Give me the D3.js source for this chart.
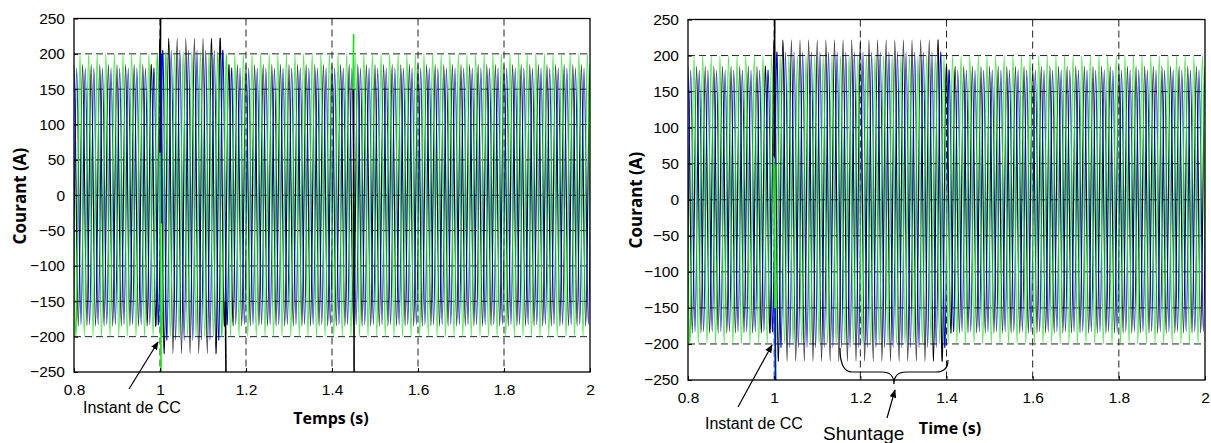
<!DOCTYPE html>
<html><head><meta charset="utf-8">
<script src="https://cdn.jsdelivr.net/npm/d3@7"></script>
<style>body{margin:0;background:#fff;overflow:hidden}</style>
</head><body>
<svg id="c" width="1211" height="443"></svg>
<script>
// ---------- DATA ----------
const timeDomain = [0.8, 2.0];
const currentDomain = [-250, 250];
const timeTicks = [0.8, 1.0, 1.2, 1.4, 1.6, 1.8, 2.0];
const timeTickLabels = ["0.8", "1", "1.2", "1.4", "1.6", "1.8", "2"];
const currentTicks = [-250, -200, -150, -100, -50, 0, 50, 100, 150, 200, 250];
const freqHz = 50;
const seriesNames = ["black", "blue", "green"];
const seriesColors = ["#000000", "#0000ff", "#00ee00"];
const seriesLag = [0.0, 0.31, 0.70];          // fraction of a period

// left panel : peak / trough per time segment
const leftSegments = [0.8, 1.0, 1.15, 2.0];
const leftBlackPeak = [185, 222, 185];
const leftBlackTrough = [-185, -224, -185];
const leftBluePeak = [180, 205, 180];
const leftBlueTrough = [-183, -205, -183];
const leftGreenPeak = [200, 203, 200];
const leftGreenTrough = [-200, -200, -200];
const leftSpikeSeries = ["black", "green", "blue", "black", "black", "green"];
const leftSpikeTimes = [1.0, 1.001, 1.003, 1.152, 1.45, 1.449];
const leftSpikeFrom = [60, 60, 200, -150, 150, 150];
const leftSpikeTo = [262, -250, -40, -250, -250, 228];

// right panel
const rightSegments = [0.8, 1.0, 1.4, 2.0];
const rightBlackPeak = [185, 222, 185];
const rightBlackTrough = [-185, -224, -185];
const rightBluePeak = [180, 205, 180];
const rightBlueTrough = [-183, -205, -183];
const rightGreenPeak = [200, 200, 200];
const rightGreenTrough = [-200, -200, -200];
const rightSpikeSeries = ["black", "green", "blue"];
const rightSpikeTimes = [1.0, 1.001, 1.002];
const rightSpikeFrom = [60, 50, -150];
const rightSpikeTo = [262, -250, -250];

// ---------- DRAWING ----------
const svg = d3.select("#c");
const tickFont = "'Liberation Sans', Arial, sans-serif";
const boldFont = "'Open Sans', 'DejaVu Sans', sans-serif";

function vertices(lag, segs, peaks, troughs) {
  const T = 1 / freqHz;
  const pts = [];
  const n = Math.round((timeDomain[1] - timeDomain[0]) / T);
  const amp = (t, arr) => {
    let i = d3.bisectRight(segs, t) - 1;
    i = Math.max(0, Math.min(arr.length - 1, i));
    return arr[i];
  };
  for (let k = -2; k <= n + 1; k++) {
    const tp = timeDomain[0] + (lag + k) * T;
    pts.push([tp, amp(tp, peaks)]);
    pts.push([tp + T / 4, 0]);
    pts.push([tp + T / 2, amp(tp + T / 2, troughs)]);
    pts.push([tp + 3 * T / 4, 0]);
  }
  return pts;
}

function panel(cfg) {
  const x = d3.scaleLinear().domain(timeDomain).range([cfg.x0, cfg.x1]);
  const y = d3.scaleLinear().domain(currentDomain).range([cfg.yB, cfg.yT]);
  const g = svg.append("g");
  const clipId = "clip" + cfg.id;
  svg.append("clipPath").attr("id", clipId).append("rect")
    .attr("x", cfg.x0).attr("y", cfg.yT).attr("width", cfg.x1 - cfg.x0).attr("height", cfg.yB - cfg.yT);

  // grid
  const grid = g.append("g").attr("stroke", "#222").attr("stroke-width", 1).attr("stroke-dasharray", "7,4");
  grid.selectAll("line.h").data(currentTicks.slice(1, -1)).enter().append("line")
    .attr("x1", cfg.x0).attr("x2", cfg.x1).attr("y1", d => y(d)).attr("y2", d => y(d));
  grid.selectAll("line.v").data(timeTicks.slice(1, -1)).enter().append("line")
    .attr("y1", cfg.yT).attr("y2", cfg.yB).attr("x1", d => x(d)).attr("x2", d => x(d));

  // waveforms
  const wav = g.append("g").attr("clip-path", `url(#${clipId})`);
  const line = d3.line().x(d => x(d[0])).y(d => y(d[1])).curve(d3.curveNatural);
  const sets = {
    black: [cfg.blackPeak, cfg.blackTrough],
    blue: [cfg.bluePeak, cfg.blueTrough],
    green: [cfg.greenPeak, cfg.greenTrough]
  };
  seriesNames.forEach((s, i) => {
    wav.append("path").attr("d", line(vertices(seriesLag[i], cfg.segs, sets[s][0], sets[s][1])))
      .attr("fill", "none").attr("stroke", seriesColors[i]).attr("stroke-width", 1.1);
  });
  cfg.spikeSeries.forEach((s, i) => {
    const c = seriesColors[seriesNames.indexOf(s)];
    wav.append("path")
      .attr("d", d3.line()([[x(cfg.spikeTimes[i]), y(cfg.spikeFrom[i])], [x(cfg.spikeTimes[i]) + 0.6, y(cfg.spikeTo[i])]]))
      .attr("stroke", c).attr("stroke-width", 1.6).attr("fill", "none");
  });

  // box
  g.append("rect").attr("x", cfg.x0).attr("y", cfg.yT).attr("width", cfg.x1 - cfg.x0).attr("height", cfg.yB - cfg.yT)
    .attr("fill", "none").attr("stroke", "#000").attr("stroke-width", 1.3);

  // axes (ticks inside)
  const ax = d3.axisBottom(x).tickValues(timeTicks).tickFormat((d, i) => timeTickLabels[i]).tickSizeInner(-4).tickSizeOuter(0).tickPadding(12);
  const ay = d3.axisLeft(y).tickValues(currentTicks).tickFormat(d3.format("d")).tickSizeInner(-4).tickSizeOuter(0).tickPadding(9);
  const gx = g.append("g").attr("transform", `translate(0,${cfg.yB})`).call(ax);
  const gy = g.append("g").attr("transform", `translate(${cfg.x0},0)`).call(ay);
  [gx, gy].forEach(a => {
    a.select(".domain").remove();
    a.selectAll("text").attr("font-family", tickFont).attr("font-size", "15.5px").attr("fill", "#000");
  });
  gx.selectAll("text").attr("dy", "0.71em");

  // axis titles
  g.append("text").attr("x", cfg.xl).attr("y", cfg.ylb).attr("text-anchor", "middle")
    .attr("font-family", boldFont).attr("font-weight", "bold").attr("font-size", "16px").text(cfg.xTitle);
  g.append("text").attr("transform", `translate(${cfg.yTitleX},${cfg.yTitleY}) rotate(-90)`).attr("text-anchor", "middle")
    .attr("font-family", boldFont).attr("font-weight", "bold").attr("font-size", "17px").text("Courant (A)");
  return { x, y, g };
}

// arrow marker
const defs = svg.append("defs");
defs.append("marker").attr("id", "ah").attr("viewBox", "0 0 10 10").attr("refX", 9).attr("refY", 5)
  .attr("markerWidth", 7).attr("markerHeight", 7).attr("orient", "auto")
  .append("path").attr("d", "M0,1 L10,5 L0,9 Z").attr("fill", "#000");

const L = panel({
  id: "L", x0: 74, x1: 590, yT: 18.5, yB: 372, xl: 331, ylb: 424, xTitle: "Temps (s)",
  yTitleX: 26, yTitleY: 196,
  segs: leftSegments, blackPeak: leftBlackPeak, blackTrough: leftBlackTrough,
  bluePeak: leftBluePeak, blueTrough: leftBlueTrough, greenPeak: leftGreenPeak, greenTrough: leftGreenTrough,
  spikeSeries: leftSpikeSeries, spikeTimes: leftSpikeTimes, spikeFrom: leftSpikeFrom, spikeTo: leftSpikeTo
});
const R = panel({
  id: "R", x0: 688, x1: 1205, yT: 19.5, yB: 380, xl: 950, ylb: 434, xTitle: "Time (s)",
  yTitleX: 642, yTitleY: 200,
  segs: rightSegments, blackPeak: rightBlackPeak, blackTrough: rightBlackTrough,
  bluePeak: rightBluePeak, blueTrough: rightBlueTrough, greenPeak: rightGreenPeak, greenTrough: rightGreenTrough,
  spikeSeries: rightSpikeSeries, spikeTimes: rightSpikeTimes, spikeFrom: rightSpikeFrom, spikeTo: rightSpikeTo
});

// annotations
function annot(text, tx, ty, size, a0, a1) {
  svg.append("text").attr("x", tx).attr("y", ty).attr("font-family", tickFont).attr("font-size", size).text(text);
  svg.append("line").attr("x1", a0[0]).attr("y1", a0[1]).attr("x2", a1[0]).attr("y2", a1[1])
    .attr("stroke", "#000").attr("stroke-width", 1.2).attr("marker-end", "url(#ah)");
}
annot("Instant de CC", 83, 413, "16px", [129, 389], [158, 342]);
annot("Instant de CC", 705, 429, "16px", [738, 407], [772, 345]);
annot("Shuntage", 823, 440, "19px", [887, 418], [895, 390]);
// brace under the shunted period
svg.append("path")
  .attr("d", "M840,348 Q840,372 852,372 L882,372 Q894,372 894,384 Q894,372 906,372 L936,372 Q948,372 948,360")
  .attr("fill", "none").attr("stroke", "#000").attr("stroke-width", 1.2);
</script>
</body></html>
